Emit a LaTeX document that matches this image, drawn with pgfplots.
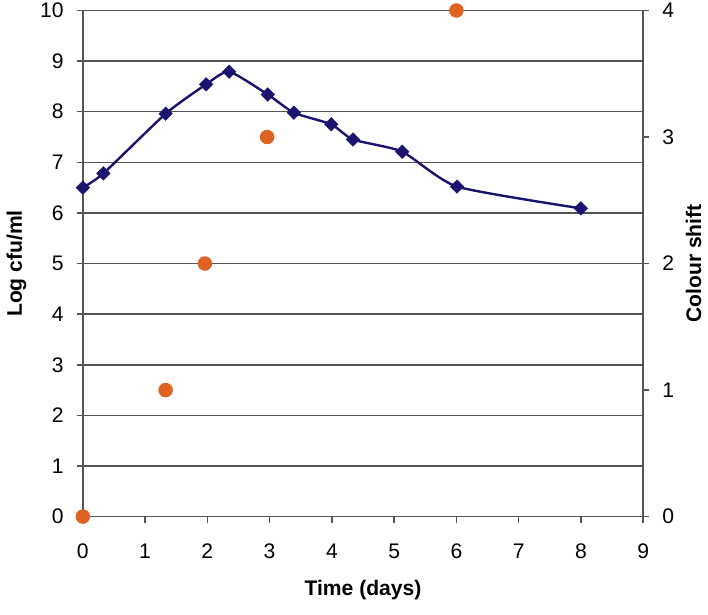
\documentclass[border=0pt]{standalone}
\usepackage{pgfplots}
\pgfplotsset{compat=1.18}
\usepackage{fontspec}
\setmainfont{Liberation Sans}
\definecolor{navyline}{RGB}{26,20,110}
\definecolor{orangept}{RGB}{222,98,32}
\definecolor{gridc}{RGB}{85,85,85}
\begin{document}
\begin{tikzpicture}
\pgfplotsset{
  common/.style={
    scale only axis, width=279pt, height=252pt,
    xmin=0, xmax=9,
    /pgf/number format/assume math mode=true,
    tick label style={font=\fontsize{10.5}{12}\selectfont, color=black},
    label style={font=\fontsize{10.5}{12}\selectfont\bfseries},
    axis line style={gridc, line width=0.8pt},
    tick style={gridc, line width=0.8pt},
    major tick length=3pt,
    tick align=outside,
  }
}
\begin{axis}[common,
  ymin=0, ymax=10,
  xtick={0,...,9}, ytick={0,...,10},
  xtick pos=bottom, ytick pos=left,
  ymajorgrids, major grid style={gridc, line width=0.8pt},
  xlabel={Time (days)}, ylabel={Log cfu/ml},
  yticklabel style={xshift=-3pt, inner ysep=1.5pt},
  xticklabel style={yshift=-7pt},
  xlabel style={yshift=0pt, inner ysep=7.25pt},
  ylabel style={yshift=0pt},
]
\addplot[navyline, line width=1.2pt, smooth, tension=0.35,
  mark=square*, mark size=2.4pt, mark options={rotate=45, fill=navyline, draw=navyline, line width=0.2pt}]
  coordinates {
  (0,6.50) (0.33,6.78) (1.33,7.96) (1.98,8.54) (2.35,8.79)
  (2.97,8.34) (3.39,7.98) (3.99,7.75) (4.34,7.45) (5.13,7.21)
  (6.01,6.52) (8.0,6.09)
  };
\end{axis}
\begin{axis}[common,
  ymin=0, ymax=4, ytick={0,...,4},
  axis x line=none, axis y line*=right,
  ylabel={Colour shift},
  ylabel style={yshift=1pt},
  yticklabel style={xshift=3pt, inner ysep=1.5pt},
  clip=false,
]
\addplot[only marks, mark=*, mark size=3.4pt, orangept, mark options={fill=orangept, draw=orangept}]
  coordinates {(0,0) (1.33,1) (1.96,2) (2.96,3) (6.0,4)};
\end{axis}
\end{tikzpicture}
\end{document}
